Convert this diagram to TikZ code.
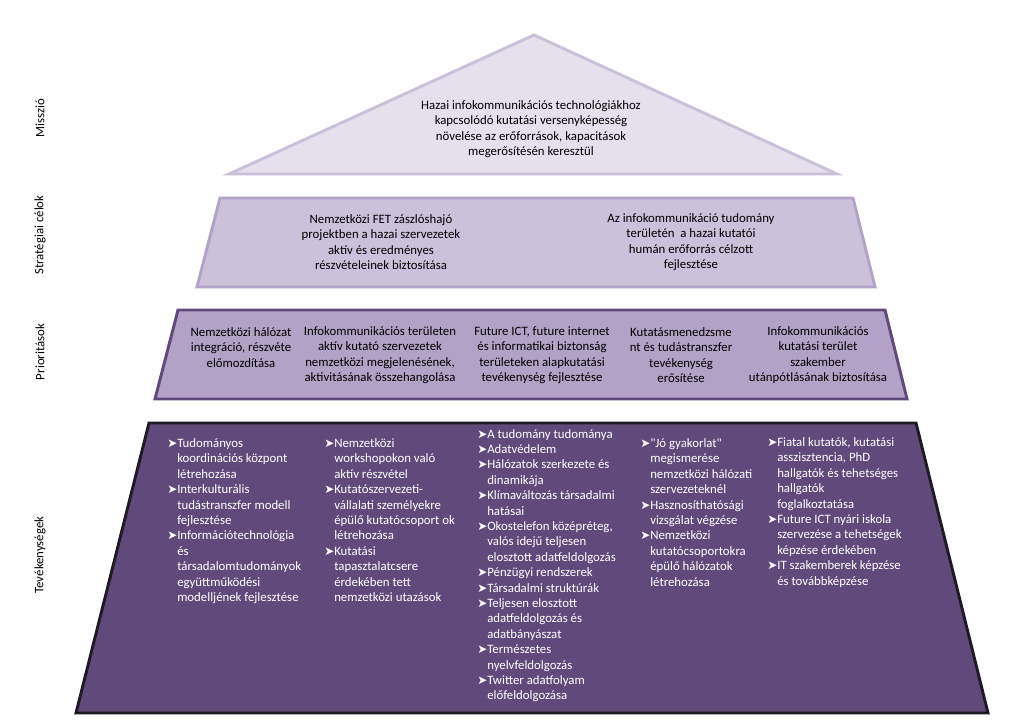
\documentclass[tikz,border=0pt]{standalone}
\usepackage{fontspec}
\setmainfont{Carlito}
\newfontfamily\qf{Carlito}[Ligatures=TeXOff]
\newfontfamily\dvfont{DejaVu Sans}
\definecolor{trifill}{HTML}{E6E0EC}
\definecolor{tridraw}{HTML}{CBC0DA}
\definecolor{stfill}{HTML}{CCC1DA}
\definecolor{stdraw}{HTML}{B3A2C7}
\definecolor{prfill}{HTML}{B3A2C7}
\definecolor{prdraw}{HTML}{604A7B}
\definecolor{acfill}{HTML}{604A7B}
\definecolor{acdraw}{HTML}{1F1A26}
\newcommand\bul{\makebox[7.5pt][l]{\dvfont\fontsize{9}{9}\selectfont ➤}}
\newcommand\ind{\hspace*{7.5pt}}
\tikzset{
  band/.style={line width=2.2pt, line join=miter},
  txt/.style={font=\fontsize{9.6}{11.6}\selectfont, align=center, inner sep=0pt, text=black},
  actcol/.style={font=\fontsize{9.6}{11.6}\selectfont, align=left, inner sep=0pt, text=white, anchor=north west},
  lbl/.style={font=\fontsize{9.6}{11.6}\selectfont, rotate=90, inner sep=0pt, text=black}
}
\begin{document}
\begin{tikzpicture}[x=0.75pt,y=-0.75pt]
\useasboundingbox (0,0) rectangle (1020,726);
\fill[white] (0,0) rectangle (1020,726);
% bands
\draw[band, fill=trifill, draw=tridraw] (534,35) -- (837,174) -- (229,174) -- cycle;
\draw[band, fill=stfill, draw=stdraw] (220,198) -- (853,198) -- (875,287) -- (197,287) -- cycle;
\draw[band, fill=prfill, draw=prdraw] (178,310) -- (885,310) -- (907,399) -- (155,399) -- cycle;
\draw[band, fill=acfill, draw=acdraw] (149,423) -- (916,423) -- (988,713) -- (76,713) -- cycle;
% side labels
\node[lbl] (l1) at (40,118) {Misszió};
\node[lbl] (l2) at (40,235) {Stratégiai célok};
\node[lbl] (l3) at (40,352) {Prioritások};
\node[lbl] (l4) at (40,555) {Tevékenységek};
% mission
\node[txt] (m) at (531,129) {Hazai infokommunikációs technológiákhoz\\kapcsolódó kutatási versenyképesség\\növelése az erőforrások, kapacitások\\megerősítésén keresztül};
% strategic goals
\node[txt] (s1) at (381,242) {Nemzetközi FET zászlóshajó\\projektben a hazai szervezetek\\aktív és eredményes\\részvételeinek biztosítása};
\node[txt] (s2) at (691,242) {Az infokommunikáció tudomány\\területén\ \ a hazai kutatói\\humán erőforrás célzott\\fejlesztése};
% priorities
\node[txt] (p1) at (241,347.5) {Nemzetközi hálózat\\integráció, részvéte\\előmozdítása};
\node[txt] (p2) at (380,355) {Infokommunikációs területen\\aktív kutató szervezetek\\nemzetközi megjelenésének,\\aktivitásának összehangolása};
\node[txt] (p3) at (542,355) {Future ICT, future internet\\és informatikai biztonság\\területeken alapkutatási\\tevékenység fejlesztése};
\node[txt] (p4) at (681,355) {Kutatásmenedzsme\\nt és tudástranszfer\\tevékenység\\erősítése};
\node[txt] (p5) at (818,355) {Infokommunikációs\\kutatási terület\\szakember\\utánpótlásának biztosítása};
% activities
\node[actcol] (a1) at (167,438) {\bul Tudományos\\\ind koordinációs központ\\\ind létrehozása\\\bul Interkulturális\\\ind tudástranszfer modell\\\ind fejlesztése\\\bul Információtechnológia\\\ind és\\\ind társadalomtudományok\\\ind együttműködési\\\ind modelljének fejlesztése};
\node[actcol] (a2) at (324,438) {\bul Nemzetközi\\\ind workshopokon való\\\ind aktív részvétel\\\bul Kutatószervezeti-\\\ind vállalati személyekre\\\ind épülő kutatócsoport ok\\\ind létrehozása\\\bul Kutatási\\\ind tapasztalatcsere\\\ind érdekében tett\\\ind nemzetközi utazások};
\node[actcol, font=\fontsize{9.6}{11.55}\selectfont] (a3) at (477,429) {\bul A tudomány tudománya\\\bul Adatvédelem\\\bul Hálózatok szerkezete és\\\ind dinamikája\\\bul Klímaváltozás társadalmi\\\ind hatásai\\\bul Okostelefon középréteg,\\\ind valós idejű teljesen\\\ind elosztott adatfeldolgozás\\\bul Pénzügyi rendszerek\\\bul Társadalmi struktúrák\\\bul Teljesen elosztott\\\ind adatfeldolgozás és\\\ind adatbányászat\\\bul Természetes\\\ind nyelvfeldolgozás\\\bul Twitter adatfolyam\\\ind előfeldolgozása};
\node[actcol] (a4) at (640,438) {\bul {\qf"}Jó gyakorlat{\qf"}\\\ind megismerése\\\ind nemzetközi hálózati\\\ind szervezeteknél\\\bul Hasznosíthatósági\\\ind vizsgálat végzése\\\bul Nemzetközi\\\ind kutatócsoportokra\\\ind épülő hálózatok\\\ind létrehozása};
\node[actcol] (a5) at (767,437) {\bul Fiatal kutatók, kutatási\\\ind asszisztencia, PhD\\\ind hallgatók és tehetséges\\\ind hallgatók\\\ind foglalkoztatása\\\bul Future ICT nyári iskola\\\ind szervezése a tehetségek\\\ind képzése érdekében\\\bul IT szakemberek képzése\\\ind és továbbképzése};
\end{tikzpicture}
\end{document}
